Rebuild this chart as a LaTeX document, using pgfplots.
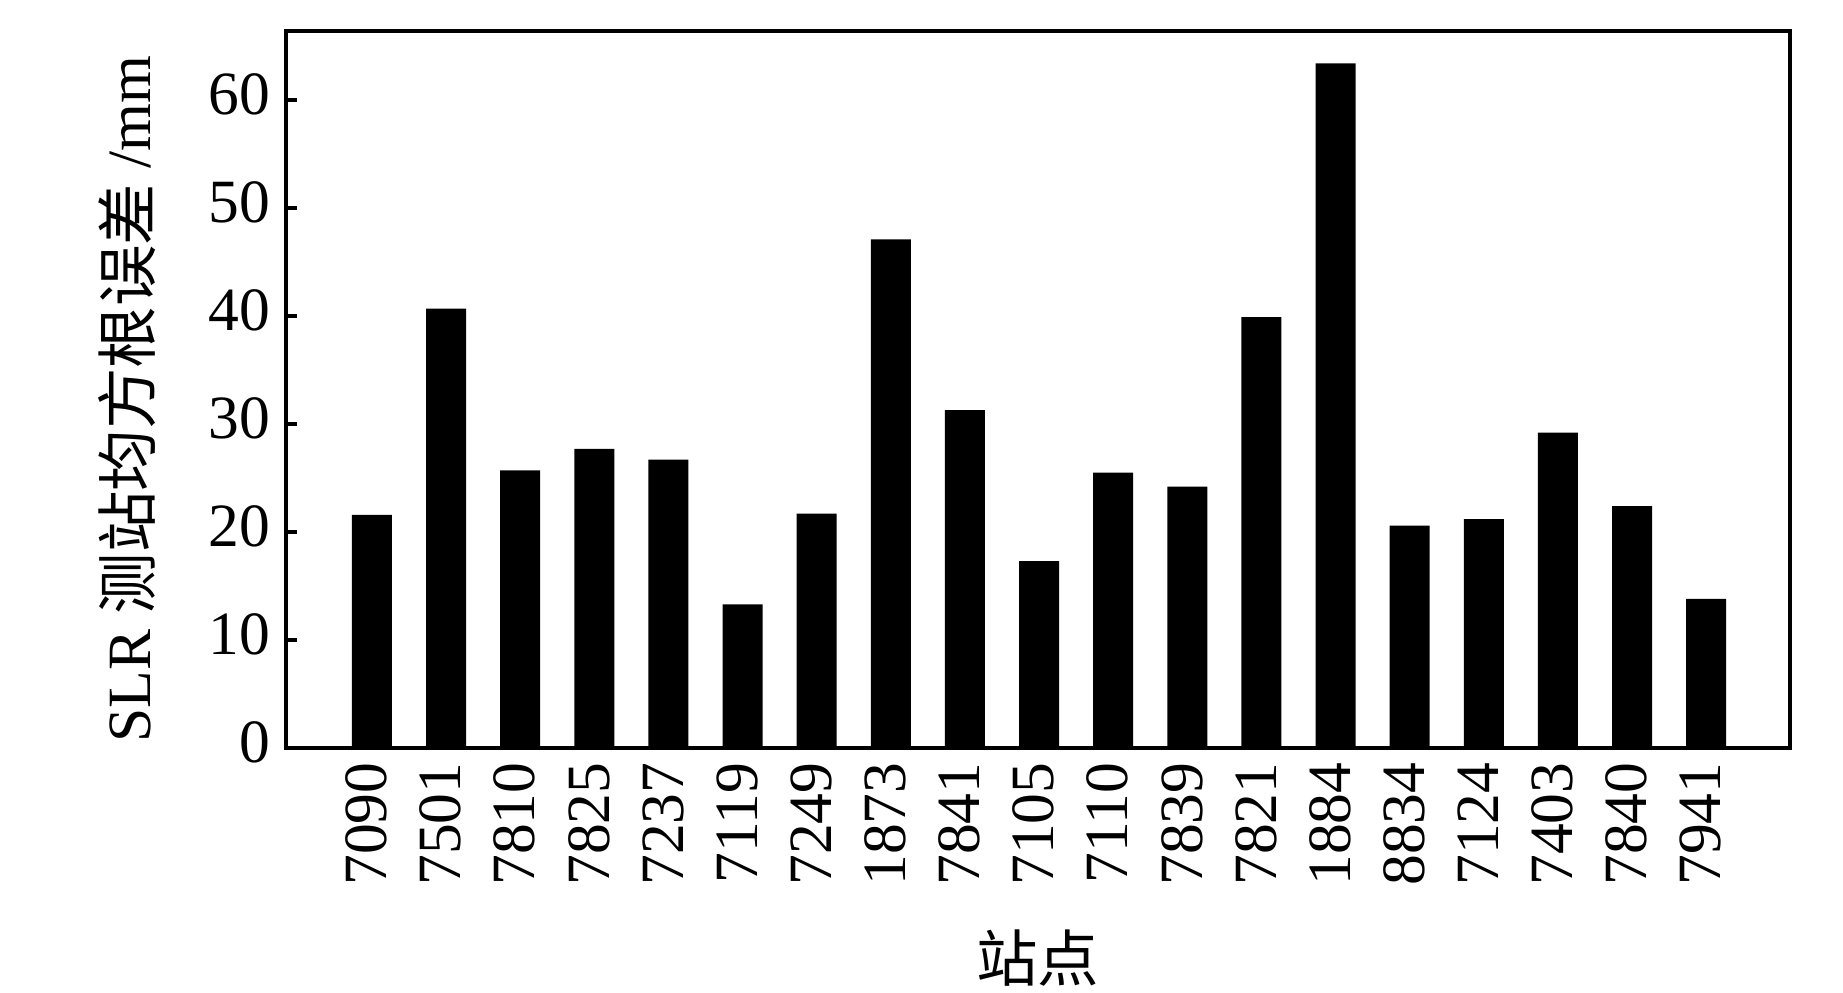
\documentclass[border=0pt]{standalone}
\usepackage{pgfplots}
\pgfplotsset{compat=1.18}
\usepackage{fontspec}
\setmainfont{Liberation Serif}
\newfontfamily\cjk{Noto Sans CJK SC}

\pgfplotstableread{
idx val
0  21.6
1  40.7
2  25.7
3  27.7
4  26.7
5  13.3
6  21.7
7  47.1
8  31.3
9  17.3
10 25.5
11 24.2
12 39.9
13 63.4
14 20.6
15 21.2
16 29.2
17 22.4
18 13.8
}\rmsdata

\begin{document}
\begin{tikzpicture}
\useasboundingbox (-2.86cm,-2.44cm) rectangle (15.57cm,7.48cm);
\begin{axis}[
    at={(0,0)}, anchor=south west,
    scale only axis,
    width=15.04cm, height=7.17cm,
    xmin=-1.16, xmax=19.13,
    ymin=0, ymax=66.4,
    ytick={0,10,20,30,40,50,60},
    xtick={0,...,18},
    xticklabels={7090,7501,7810,7825,7237,7119,7249,1873,7841,7105,7110,7839,7821,1884,8834,7124,7403,7840,7941},
    xticklabel style={rotate=90, anchor=east, inner sep=0pt},
    xticklabel shift=0.14cm,
    xtick style={draw=none},
    ytick pos=left,
    tick align=inside,
    major tick length=0.11cm,
    axis line style={line width=1pt},
    every tick/.style={line width=1pt, black},
    tick label style={font=\fontsize{17.5}{21}\selectfont},
    yticklabel style={inner sep=0pt, xshift=-0.15cm},
    /pgf/number format/assume math mode=true,
    typeset ticklabels with strut,
    ylabel={SLR {\cjk 测站均方根误差} /mm},
    ylabel style={at={(axis description cs:-0.106,0.487)}, anchor=center, font=\fontsize{17.5}{21}\selectfont},
    xlabel={{\cjk 站点}},
    xlabel style={at={(axis description cs:0.5,-0.293)}, anchor=center, font=\fontsize{17.5}{21}\selectfont},
]
\addplot[ybar, bar width=0.54, fill=black, draw=none] table[x=idx, y=val] {\rmsdata};
\end{axis}
\end{tikzpicture}
\end{document}
